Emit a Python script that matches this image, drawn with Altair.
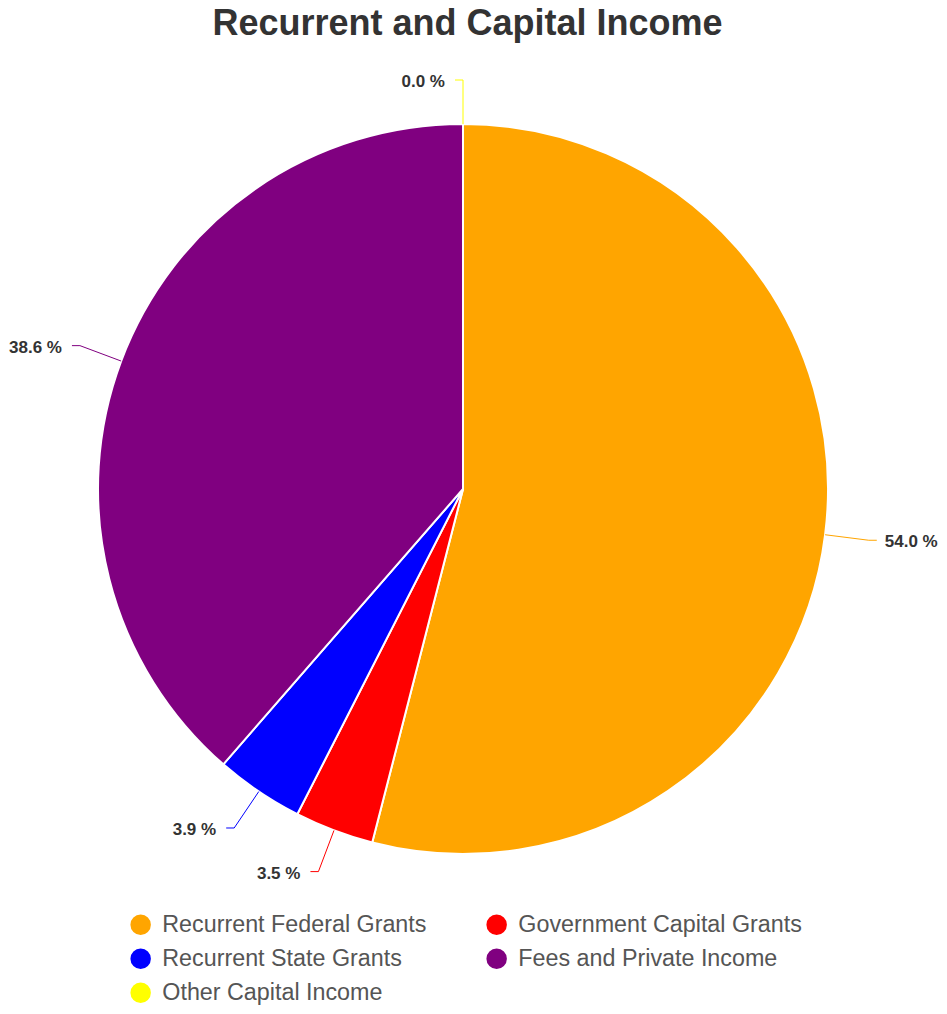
import altair as alt
import pandas as pd
import numpy as np

# ---- data ----
categories = ["Recurrent Federal Grants", "Government Capital Grants",
              "Recurrent State Grants", "Fees and Private Income",
              "Other Capital Income"]
values = [54.0, 3.5, 3.9, 38.6, 0.0]
labels = ["54.0 %", "3.5 %", "3.9 %", "38.6 %", "0.0 %"]
colors = ["#FFA500", "#FF0000", "#0000FF", "#800080", "#FFFF00"]
title_text = "Recurrent and Capital Income"

# ---- layout (plot-area pixels) ----
W, H = 931, 998
CX, CY, R = 455, 481, 365
LEAD, HOR = 44, 8
GAP_R, GAP_L = 8, 10
FONT = "Liberation Sans"

total = float(sum(values))
df = pd.DataFrame({"category": categories, "value": values, "label": labels,
                   "color": colors, "order": list(range(len(values)))})
mid = (df["value"].cumsum() - df["value"] / 2) / total * 2 * np.pi
s, c = np.sin(mid), np.cos(mid)
side = np.where(s > 1e-9, 1, -1)
x0, y0 = CX + R * s, CY - R * c
x1, y1 = CX + (R + LEAD) * s, CY - (R + LEAD) * c
x2, y2 = x1 + side * HOR, y1
df["tx"] = x2 + np.where(side > 0, GAP_R, -GAP_L)
df["ty"] = y2
df["side"] = side

pts = []
for i in range(len(df)):
    for k, (px, py) in enumerate([(x0[i], y0[i]), (x1[i], y1[i]), (x2[i], y2[i])]):
        pts.append({"category": categories[i], "color": colors[i], "k": k,
                    "px": px, "py": py})
lines_df = pd.DataFrame(pts)

arc = alt.Chart(df).mark_arc(radius=R, stroke="white", strokeWidth=2).encode(
    theta=alt.Theta("value:Q", stack=True),
    color=alt.Color("category:N", sort=categories,
                    scale=alt.Scale(domain=categories, range=colors),
                    legend=alt.Legend(
                        title=None, orient="none", legendX=121, legendY=905,
                        direction="horizontal", columns=2, columnPadding=58,
                        rowPadding=10, symbolType="circle", symbolSize=420,
                        symbolStrokeWidth=0, labelFont=FONT,
                        labelFontSize=23.3, labelColor="#555555",
                        labelOffset=10, labelLimit=400, padding=0)),
    order=alt.Order("order:Q"),
    x=alt.value(CX), y=alt.value(CY),
)

leaders = alt.Chart(lines_df).mark_line(strokeWidth=1).encode(
    x=alt.X("px:Q", scale=None),
    y=alt.Y("py:Q", scale=None),
    detail="category:N",
    order="k:Q",
    stroke=alt.Stroke("color:N", scale=None),
)

text_right = alt.Chart(df).transform_filter("datum.side > 0").mark_text(
    align="left", baseline="middle", font=FONT, fontSize=17, dy=2,
    fontWeight="bold", color="#333333").encode(
    x=alt.X("tx:Q", scale=None), y=alt.Y("ty:Q", scale=None), text="label:N")

text_left = alt.Chart(df).transform_filter("datum.side < 0").mark_text(
    align="right", baseline="middle", font=FONT, fontSize=17, dy=2,
    fontWeight="bold", color="#333333").encode(
    x=alt.X("tx:Q", scale=None), y=alt.Y("ty:Q", scale=None), text="label:N")

title = alt.Chart(pd.DataFrame({"t": [title_text]})).mark_text(
    align="center", baseline="alphabetic", font=FONT,
    fontSize=36, fontWeight="bold", color="#333333").encode(
    x=alt.value(459.5), y=alt.value(27), text="t:N")

chart = alt.layer(arc, leaders, text_right, text_left, title).properties(
    width=W, height=H, padding=0, autosize=alt.AutoSizeParams(type="none")
).configure_view(stroke=None)

chart.save("out.html", embed_options={"renderer": "svg", "actions": False})
